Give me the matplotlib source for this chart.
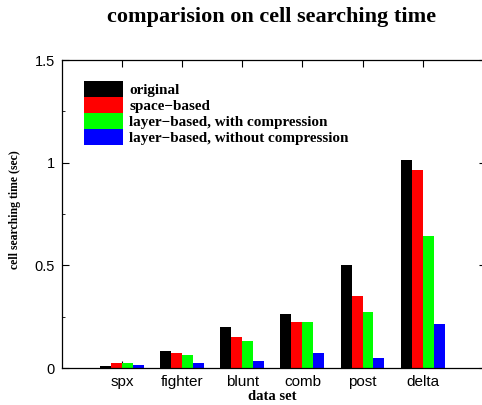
import matplotlib
matplotlib.use("Agg")
import matplotlib.pyplot as plt
import numpy as np
from matplotlib.ticker import MultipleLocator

categories = ["spx", "fighter", "blunt", "comb", "post", "delta"]
series_names = ["original", "space\u2212based", "layer\u2212based, with compression",
                "layer\u2212based, without compression"]
original = [0.012, 0.083, 0.201, 0.261, 0.500, 1.012]
space_based = [0.022, 0.073, 0.151, 0.222, 0.352, 0.963]
layer_comp = [0.022, 0.062, 0.131, 0.222, 0.273, 0.642]
layer_nocomp = [0.013, 0.024, 0.034, 0.073, 0.049, 0.214]
colors = ["#000000", "#ff0000", "#00ff00", "#0000ff"]

W, H = 482, 405
fig = plt.figure(figsize=(W / 100, H / 100), dpi=100)
ax_w = 424
ax = fig.add_axes([62 / W, 1 - 368 / H, ax_w / W, 308 / H])

serif = "Liberation Serif"
sans = "Liberation Sans"

x = np.arange(1, len(categories) + 1)
bw = 0.183
data = [original, space_based, layer_comp, layer_nocomp]
handles = []
for i, (vals, c, name) in enumerate(zip(data, colors, series_names)):
    b = ax.bar(x + (i - 1.5) * bw, vals, width=bw, color=c, label=name,
               linewidth=0, zorder=2)
    handles.append(b)

ax.set_xlim(0, ax_w / 60.1)
ax.set_ylim(0, 1.5)
ax.set_xticks(x)
ax.set_xticklabels(categories, fontfamily=sans, fontsize=11)
ax.set_yticks([0, 0.5, 1, 1.5])
ax.set_yticklabels(["0", "0.5", "1", "1.5"], fontfamily=sans, fontsize=10.5)
ax.yaxis.set_minor_locator(MultipleLocator(0.25))
ax.tick_params(axis="both", which="major", direction="in", length=5,
               top=True, right=True, width=0.8, pad=5)
ax.tick_params(axis="y", which="minor", direction="in", length=2.5,
               right=True, left=True, width=0.6)
for s in ax.spines.values():
    s.set_linewidth(0.9)

fig.text(272 / W, 1 - 17 / H, "comparision on cell searching time",
         fontfamily=serif, fontweight="bold", fontsize=16,
         ha="center", va="center")
ax.set_xlabel("data set", fontfamily=serif, fontweight="bold", fontsize=10.5,
              labelpad=2)
ax.xaxis.set_label_coords((272 - 62) / ax_w, -(397 - 368) / 308)
ax.xaxis.label.set_va("center")
ax.set_ylabel("cell searching time (sec)", fontfamily=serif, fontweight="bold",
              fontsize=8.5)
ax.yaxis.set_label_coords(-(62 - 21) / ax_w, (368 - 210) / 308)

leg = ax.legend(handles=handles, loc="upper left", bbox_to_anchor=(22 / ax_w, 1 - 21 / 308),
                frameon=False, prop={"family": serif, "weight": "bold", "size": 10.9},
                handlelength=2.55, handleheight=1.25, handletextpad=0.45,
                labelspacing=0.0, borderaxespad=0.0, borderpad=0.0)

fig.savefig("out.png", dpi=100)
